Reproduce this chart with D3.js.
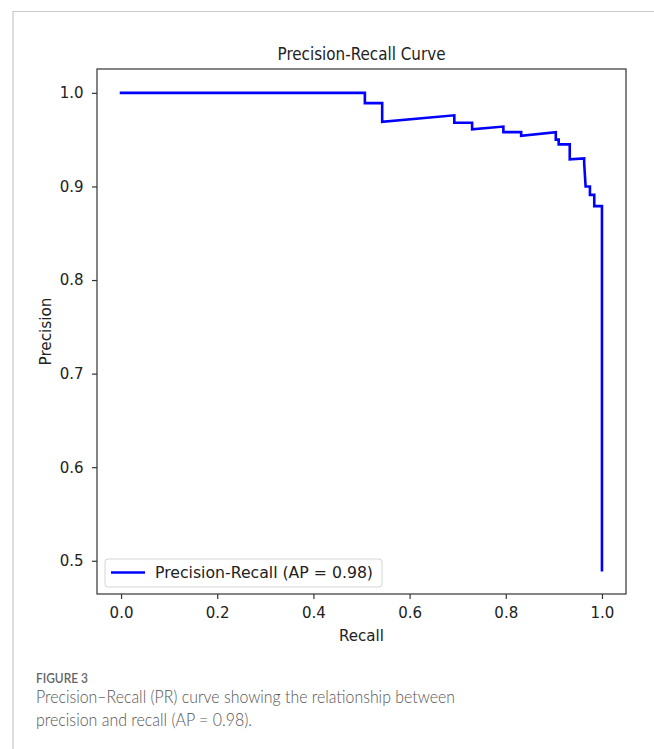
<!DOCTYPE html>
<html>
<head>
<meta charset="utf-8">
<script src="https://cdn.jsdelivr.net/npm/d3@7"></script>
<style>
  html, body { margin: 0; padding: 0; background: #fff; }
  svg { display: block; }
</style>
</head>
<body>
<svg id="chart" width="654" height="749"></svg>
<script>
// ---- data ----
const recall = [0.000, 0.507, 0.507, 0.543, 0.543, 0.693, 0.693, 0.730, 0.730, 0.795, 0.795,
                0.832, 0.832, 0.904, 0.904, 0.910, 0.910, 0.933, 0.933, 0.963, 0.963, 0.966,
                0.975, 0.975, 0.984, 0.984, 1.000, 1.000];
const precision = [1.000, 1.000, 0.989, 0.989, 0.969, 0.976, 0.968, 0.968, 0.961, 0.964, 0.958,
                   0.958, 0.954, 0.958, 0.950, 0.950, 0.945, 0.945, 0.929, 0.930, 0.925, 0.900,
                   0.900, 0.891, 0.891, 0.879, 0.879, 0.490];
const xTicks = [0.0, 0.2, 0.4, 0.6, 0.8, 1.0];
const yTicks = [0.5, 0.6, 0.7, 0.8, 0.9, 1.0];
const titleText = "Precision-Recall Curve";
const xLabel = "Recall";
const yLabel = "Precision";
const legendLabel = "Precision-Recall (AP = 0.98)";
const figureLabel = "FIGURE 3";
const captionLines = ["Precision\u2013Recall (PR) curve showing the relationship between",
                      "precision and recall (AP = 0.98)."];

const svg = d3.select("#chart");
const font = "'DejaVu Sans', sans-serif";

// outer page border
svg.append("path").attr("d", "M13,749 V11.5 H654")
  .attr("fill", "none").attr("stroke", "#c8c8c8").attr("stroke-width", 1.2);

const plot = { left: 97, top: 69, right: 626, bottom: 594 };

// matplotlib-style 5% margins
const xMin = d3.min(recall), xMax = d3.max(recall);
const yMin = d3.min(precision), yMax = d3.max(precision);
const xPad = (xMax - xMin) * 0.05, yPad = (yMax - yMin) * 0.05;
const x = d3.scaleLinear().domain([xMin - xPad, xMax + xPad]).range([plot.left, plot.right]);
const y = d3.scaleLinear().domain([yMin - yPad, yMax + yPad]).range([plot.bottom, plot.top]);

const axisColor = "#333";

// axes
const gx = svg.append("g").attr("transform", `translate(0,${plot.bottom})`)
  .call(d3.axisBottom(x).tickValues(xTicks).tickFormat(d3.format(".1f")).tickSize(5).tickPadding(5));
const gy = svg.append("g").attr("transform", `translate(${plot.left},0)`)
  .call(d3.axisLeft(y).tickValues(yTicks).tickFormat(d3.format(".1f")).tickSize(5).tickPadding(8.5));
[gx, gy].forEach(g => {
  g.select(".domain").remove();
  g.selectAll(".tick line").attr("stroke", axisColor).attr("stroke-width", 1.2);
  g.selectAll(".tick text").attr("fill", "#222").style("font-family", font).style("font-size", "15px");
});
gx.selectAll(".tick text").attr("dy", "0.9em");

// curve
const line = d3.line().x(d => x(d[0])).y(d => y(d[1]));
const pts = recall.map((r, i) => [r, precision[i]]);
svg.append("path").datum(pts).attr("d", line)
  .attr("fill", "none").attr("stroke", "#0000ff").attr("stroke-width", 2.6)
  .attr("stroke-linejoin", "miter").attr("stroke-linecap", "square");

// frame
svg.append("rect").attr("x", plot.left).attr("y", plot.top)
  .attr("width", plot.right - plot.left).attr("height", plot.bottom - plot.top)
  .attr("fill", "none").attr("stroke", axisColor).attr("stroke-width", 1.2);

// title
svg.append("text").attr("x", (plot.left + plot.right) / 2).attr("y", 60)
  .attr("text-anchor", "middle").style("font-family", font).style("font-size", "18.5px")
  .attr("fill", "#222").attr("textLength", 168).attr("lengthAdjust", "spacingAndGlyphs")
  .text(titleText);

// axis labels
svg.append("text").attr("x", (plot.left + plot.right) / 2).attr("y", 641)
  .attr("text-anchor", "middle").style("font-family", font).style("font-size", "15px")
  .attr("fill", "#222").attr("textLength", 45).attr("lengthAdjust", "spacingAndGlyphs").text(xLabel);
svg.append("text").attr("transform", `translate(51,${(plot.top + plot.bottom) / 2}) rotate(-90)`)
  .attr("text-anchor", "middle").style("font-family", font).style("font-size", "15px")
  .attr("fill", "#222").attr("textLength", 68).attr("lengthAdjust", "spacingAndGlyphs").text(yLabel);

// legend
const lg = svg.append("g");
lg.append("rect").attr("x", 105).attr("y", 559).attr("width", 277).attr("height", 28)
  .attr("rx", 3).attr("fill", "#fff").attr("fill-opacity", 0.85)
  .attr("stroke", "#d6d6d6").attr("stroke-width", 1);
lg.append("line").attr("x1", 111).attr("x2", 145).attr("y1", 572.5).attr("y2", 572.5)
  .attr("stroke", "#0000ff").attr("stroke-width", 2.6);
lg.append("text").attr("x", 155).attr("y", 578).style("font-family", font).style("font-size", "15.5px")
  .attr("fill", "#222").attr("textLength", 218).attr("lengthAdjust", "spacingAndGlyphs")
  .text(legendLabel);

// caption
svg.append("text").attr("x", 36).attr("y", 683).style("font-family", "Lato, 'Open Sans', sans-serif")
  .style("font-size", "14px").style("font-weight", 600).attr("fill", "#666")
  .attr("textLength", 52).attr("lengthAdjust", "spacingAndGlyphs").text(figureLabel);
const capLens = [419, 216];
captionLines.forEach((t, i) => {
  svg.append("text").attr("x", 36).attr("y", 703 + i * 22.5)
    .style("font-family", "Lato, 'Open Sans', sans-serif").style("font-size", "17.5px")
    .style("font-weight", 300).attr("fill", "#555")
    .attr("textLength", capLens[i]).attr("lengthAdjust", "spacingAndGlyphs").text(t);
});
</script>
</body>
</html>
